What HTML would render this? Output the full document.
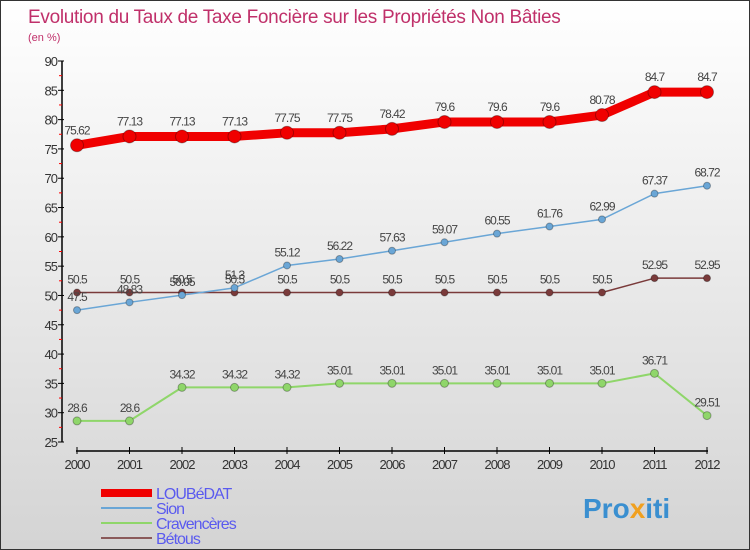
<!DOCTYPE html>
<html><head><meta charset="utf-8"><style>
body{margin:0}
#c{width:750px;height:550px;position:relative;background:linear-gradient(#fff,#d4d4d4);box-sizing:border-box;border:1px solid #333;font-family:"Liberation Sans",sans-serif;overflow:hidden}
</style></head><body>
<div id="c">
<svg id="s" width="750" height="550" style="position:absolute;left:0;top:0">
<text x="27" y="22" font-size="19" fill="#c0306a" letter-spacing="-0.3">Evolution du Taux de Taxe Foncière sur les Propriétés Non Bâties</text>
<text x="27" y="40" font-size="11" fill="#c0306a">(en %)</text>
<g id="g"></g>
<text x="582" y="517" font-size="28" font-weight="bold" fill="#3a8fd0">Pro<tspan fill="#f0a020">x</tspan>iti</text>
</svg>
</div>
<script>
const years=[2000,2001,2002,2003,2004,2005,2006,2007,2008,2009,2010,2011,2012];
const yTicks=[25,30,35,40,45,50,55,60,65,70,75,80,85,90];
const loubedat=[75.62,77.13,77.13,77.13,77.75,77.75,78.42,79.6,79.6,79.6,80.78,84.7,84.7];
const sion=[47.5,48.83,50.05,51.3,55.12,56.22,57.63,59.07,60.55,61.76,62.99,67.37,68.72];
const craven=[28.6,28.6,34.32,34.32,34.32,35.01,35.01,35.01,35.01,35.01,35.01,36.71,29.51];
const betous=[50.5,50.5,50.5,50.5,50.5,50.5,50.5,50.5,50.5,50.5,50.5,52.95,52.95];
const names=["LOUBéDAT","Sion","Cravencères","Bétous"];
const fmt=v=>String(v);
const X=i=>76+i*52.5, Y=v=>441-(v-25)*(381/65);
const g=document.getElementById('g');const NS='http://www.w3.org/2000/svg';
function mk(t,a,p){const e=document.createElementNS(NS,t);for(const k in a)e.setAttribute(k,a[k]);(p||g).appendChild(e);return e;}
let e=mk('line',{x1:61,y1:60,x2:61,y2:441,stroke:'#000','stroke-width':1.5});

e=mk('line',{x1:75,y1:450,x2:707,y2:450,stroke:'#000','stroke-width':1.5});

yTicks.forEach((v,i)=>{mk('line',{x1:57,y1:Y(v),x2:63,y2:Y(v),stroke:'#000'});
if(i<yTicks.length-1)mk('line',{x1:58,y1:Y(v+2.5),x2:61,y2:Y(v+2.5),stroke:'#f00'});
const t=mk('text',{x:56,y:Y(v)+5,'font-size':13,'text-anchor':'end',fill:'#333','letter-spacing':'-1'});t.textContent=v;
});
years.forEach((y,i)=>{mk('line',{x1:X(i),y1:446,x2:X(i),y2:453,stroke:'#000'});
const t=mk('text',{x:X(i),y:468,'font-size':13,'text-anchor':'middle',fill:'#333','letter-spacing':'-1'});t.textContent=y;
});
function series(d,col,w,r,name,labelDy){
const pl=mk('polyline',{points:d.map((v,i)=>X(i)+','+Y(v)).join(' '),fill:'none',stroke:col,'stroke-width':w,'stroke-linejoin':'round'});

d.forEach((v,i)=>{const c=mk('circle',{cx:X(i),cy:Y(v),r:r,fill:col,stroke:'rgba(0,0,0,0.3)'});

const t=mk('text',{x:X(i),y:Y(v)+labelDy,'font-size':12,'text-anchor':'middle',fill:'#444','letter-spacing':'-1'});t.textContent=fmt(v);
});}
series(craven,'#8fd66a',2,4,'cravenceres',-9);
series(betous,'#7a3a3a',1.5,3.5,'betous',-9);
series(sion,'#6aa6d6',1.5,3.5,'sion',-9);
series(loubedat,'#f00000',9,6.5,'loubedat',-11);
const lc=['#f00000','#6aa6d6','#8fd66a','#8a5a5a'],lw=[8,2,2,2];
names.forEach((n,i)=>{const y=492+i*15;
const l=mk('line',{x1:100,y1:y,x2:151,y2:y,stroke:lc[i],'stroke-width':lw[i]});

const t=mk('text',{x:155,y:y+6,'font-size':16,fill:'#5a5aef','letter-spacing':'-1'});t.textContent=n;
});
</script>
</body></html>
